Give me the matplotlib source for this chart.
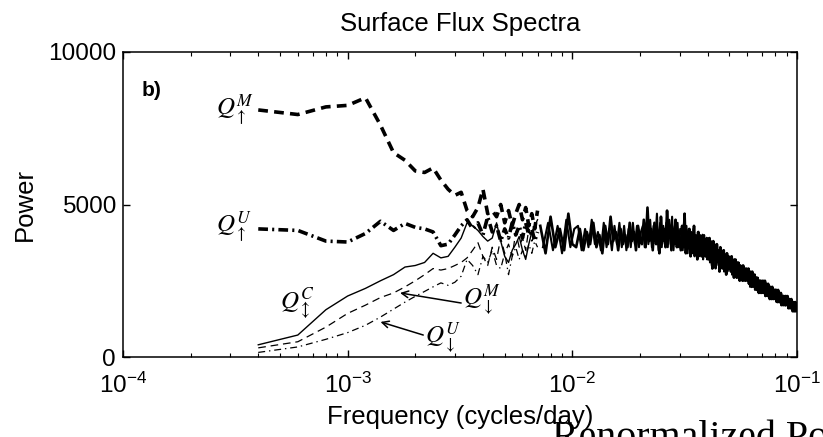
import numpy as np
import matplotlib

matplotlib.use("Agg")
import matplotlib.pyplot as plt  # noqa: E402

plt.rcParams.update({
    "font.family": ["Liberation Sans", "DejaVu Sans"],
    "lines.scale_dashes": False,
    "axes.linewidth": 1.1,
})

# frequency bins (cycles/day): spectrum sampled every 2e-4
DF = 2e-4
k_lo = np.arange(2, 36)          # 4e-4 .. 7e-3, curves still separate
k_hi = np.arange(36, 501, 2)     # 7.2e-3 .. 0.1, curves merged into one band

# low-frequency part, one value per bin (Power)
q_up_m = [8100, 7950, 8200, 8250, 8500, 7600, 6700, 6450, 6100, 6050,
          6200, 5800, 5500, 5300, 5400, 4800, 4600, 4900, 5500, 4700,
          4800, 4600, 5000, 4400, 4800, 4300, 4700, 5000, 4500, 4900,
          4300, 4700, 4200, 4800]
q_up_u = [4200, 4150, 3800, 3770, 4050, 4450, 4150, 4380, 4250, 4200,
          4100, 3650, 3700, 4000, 4300, 4500, 4200, 4400, 4000, 4600,
          4100, 4300, 3800, 4200, 3900, 4400, 4000, 4300, 3900, 4400,
          4000, 4200, 3800, 4100]
q_c = [400, 720, 1550, 2000, 2250, 2500, 2700, 2950, 3000, 3100,
       3400, 3250, 3300, 3600, 3900, 4400, 4300, 4150, 3950, 3800,
       3900, 4400, 3800, 3300, 3100, 3500, 3700, 3950, 3500, 3200,
       3700, 4100, 4300, 4500]
q_dn_m = [300, 500, 980, 1430, 1700, 1950, 2100, 2300, 2500, 2700,
          2900, 2850, 2900, 3000, 3100, 3250, 3500, 3750, 3300, 3000,
          3600, 3200, 3900, 3400, 3700, 3300, 4100, 3600, 3900, 3500,
          4200, 3800, 4000, 3900]
q_dn_u = [150, 330, 580, 800, 1040, 1310, 1570, 1800, 1990, 2150,
          2300, 2430, 2350, 2450, 2650, 3200, 3000, 2700, 3300, 3100,
          3500, 3000, 2900, 3400, 2700, 3300, 3600, 3200, 3500, 3300,
          3700, 3400, 3800, 3600]

# high-frequency band (all curves overlap here), even bins
band_a = [
    4300, 3400, 4600, 3600, 4200, 3500, 4700, 3700,
    3600, 4200, 3500, 4100, 3700, 4400, 3600, 4000, 3400, 4300, 3700, 4600, 3800,
    4100, 3500, 4200, 3700, 4000, 3600, 4400, 3800, 4100, 3500, 4300, 3900,
    3700, 4500, 3600, 4900, 3800, 4200, 3500, 4400, 3700, 4100, 3400, 4600, 3800,
    4200, 3600, 4800, 3900, 4300, 3500, 4200, 3700, 4500, 3600, 4100, 3800,
    3500, 4300, 3600, 4700, 3400, 4100, 3700, 4200, 3300, 4000, 3600, 4300, 3500,
    3900, 3200, 4100, 3600, 3800, 3300, 4000, 3400, 3800, 3300, 3900, 3500,
    3200, 3900, 3300, 3700, 2900, 3800, 3200, 3600, 3000, 3700, 3300, 3500, 2800,
    3600, 3100, 3400, 2900, 3500, 3000, 3300, 2700, 3400, 3000, 3300, 2900,
    3200, 2800, 3300, 2900, 3100, 2600, 3200, 2800, 3000, 2600, 3100, 2700, 2900,
    2500, 3000, 2700, 2900, 2500, 3000, 2600, 2800, 2500, 2900, 2600, 2800,
    2500, 2900, 2400, 2800, 2500, 2700, 2300, 2800, 2400, 2600, 2300, 2700, 2300,
    2600, 2200, 2600, 2300, 2500, 2100, 2500, 2200, 2500, 2100, 2400, 2200,
    2500, 2100, 2400, 2200, 2500, 2000, 2400, 2100, 2300, 2000, 2400, 2100, 2300,
    1900, 2300, 2000, 2200, 1900, 2300, 2000, 2200, 1900, 2200, 2000, 2200,
    1900, 2200, 1900, 2100, 1800, 2200, 1900, 2100, 1800, 2000, 1800, 2100, 1700,
    2000, 1800, 2000, 1700, 2000, 1800, 1900, 1700, 2000, 1700, 1900, 1800,
    2000, 1700, 1900, 1600, 1900, 1700, 1900, 1600, 1800, 1700, 1900, 1600, 1800,
    1500, 1800, 1600, 1800, 1500, 1700, 1600, 1800, 1500, 1700, 1600, 1700,
]
# same band, odd bins
band_b = [
    3600, 4400, 3500, 4300, 3400, 4500, 3600, 4200,
    4300, 3500, 4200, 3600, 4500, 3700, 4100, 3500, 4400, 3600, 4200, 3500, 4300,
    3700, 4400, 3600, 4300, 3500, 4200, 3600, 4400, 3700, 4300, 3600, 4100,
    4300, 3600, 4400, 3700, 4500, 3600, 4300, 3800, 4700, 3500, 4400, 3600, 4300,
    3700, 4400, 3600, 4500, 3700, 4600, 3500, 4300, 3700, 4400, 3600, 4200,
    4200, 3500, 4400, 3600, 4300, 3400, 4200, 3500, 4100, 3400, 4200, 3300, 4000,
    3500, 4100, 3300, 4000, 3400, 3900, 3200, 4000, 3300, 3800, 3200, 3900,
    3700, 3100, 3800, 3000, 3600, 3200, 3700, 2900, 3600, 3100, 3500, 3000, 3500,
    2900, 3400, 3100, 3500, 2800, 3300, 3000, 3400, 2800, 3300, 2900, 3200,
    2900, 3300, 2700, 3200, 2800, 3100, 2700, 3200, 2600, 3000, 2800, 3100, 2600,
    3000, 2700, 2900, 2600, 3000, 2500, 2900, 2600, 2800, 2500, 2900, 2600,
    2800, 2400, 2700, 2300, 2800, 2400, 2700, 2300, 2600, 2400, 2700, 2200, 2600,
    2300, 2500, 2200, 2600, 2300, 2500, 2100, 2400, 2200, 2500, 2100, 2400,
    2200, 2500, 2100, 2400, 2000, 2400, 2100, 2300, 2000, 2400, 2000, 2300, 2100,
    2300, 1900, 2200, 2000, 2300, 1900, 2200, 2000, 2100, 1900, 2200, 1900,
    2200, 1800, 2100, 1900, 2100, 1800, 2100, 1800, 2000, 1900, 2100, 1800, 2000,
    1700, 2000, 1800, 1900, 1700, 2000, 1800, 1900, 1700, 1900, 1700, 1900,
    1700, 2000, 1600, 1900, 1700, 1900, 1600, 1900, 1600, 1800, 1600, 1800, 1700,
    1800, 1500, 1800, 1600, 1700, 1500, 1800, 1600, 1700, 1500, 1700, 1600,
]

W, H = 823, 437
fig = plt.figure(figsize=(W / 100, H / 100), dpi=100)
ax = fig.add_axes([123 / W, 1 - 357 / H, 674 / W, 305 / H])

f_lo = k_lo * DF
ax.plot(k_hi * DF, band_a, color="k", lw=1.9)
ax.plot((k_hi + 1) * DF, band_b, color="k", lw=1.5)
ax.plot(f_lo, q_dn_u, color="k", lw=0.9, dashes=(5, 2.8, 1, 2.8))
ax.plot(f_lo, q_dn_m, color="k", lw=0.9, dashes=(5.5, 3.5))
ax.plot(f_lo, q_c, color="k", lw=1.0)
ax.plot(f_lo, q_up_u, color="k", lw=2.6, dashes=(7, 3, 1.5, 3))
ax.plot(f_lo, q_up_m, color="k", lw=2.6, dashes=(7, 4.5))

ax.set_xscale("log")
ax.set_xlim(1e-4, 1e-1)
ax.set_ylim(0, 10000)
ax.set_yticks([0, 5000, 10000])
ax.tick_params(which="both", direction="in", top=True, right=True,
               labelsize=17.6, color="k")
ax.tick_params(which="major", length=5, width=1.0)
ax.tick_params(which="minor", length=3, width=0.8)
ax.tick_params(axis="x", pad=11)
ax.tick_params(axis="y", pad=5)

fig.text(460 / W, 1 - 24 / H, "Surface Flux Spectra", fontsize=18.5,
         ha="center", va="center")
ax.set_xlabel("Frequency (cycles/day)", fontsize=18.5, va="center")
ax.xaxis.set_label_coords(0.5, (357 - 417) / 305)
ax.set_ylabel("Power", fontsize=18.5, va="center", ha="center")
ax.yaxis.set_label_coords((25 - 123) / 674, 0.5)

ax.text(0.028, 0.875, "b)", transform=ax.transAxes, fontsize=15,
        fontweight="bold", ha="left", va="center")

qkw = dict(fontsize=18, math_fontfamily="stix", ha="left", va="center")
ax.text(2.6e-4, 8100, r"$Q_{\uparrow}^{M}$", **qkw)
ax.text(2.6e-4, 4250, r"$Q_{\uparrow}^{U}$", **qkw)
ax.text(5.0e-4, 1750, r"$Q_{\updownarrow}^{C}$", **qkw)
ax.text(3.27e-3, 1850, r"$Q_{\downarrow}^{M}$", **qkw)
ax.text(2.21e-3, 600, r"$Q_{\downarrow}^{U}$", **qkw)

akw = dict(arrowstyle="->", lw=1.1, color="k", shrinkA=0, shrinkB=0,
           mutation_scale=12)
ax.annotate("", xy=(1.71e-3, 2100), xytext=(3.2e-3, 1770), arrowprops=akw)
ax.annotate("", xy=(1.40e-3, 1150), xytext=(2.17e-3, 720), arrowprops=akw)

# caption heading of the page below, cut by the crop
fig.text(552 / W, 1 - 448 / H, "Renormalized Power", fontsize=28.8,
         family="Liberation Serif", ha="left", va="baseline")

fig.savefig("out.png", dpi=100, facecolor="white")
